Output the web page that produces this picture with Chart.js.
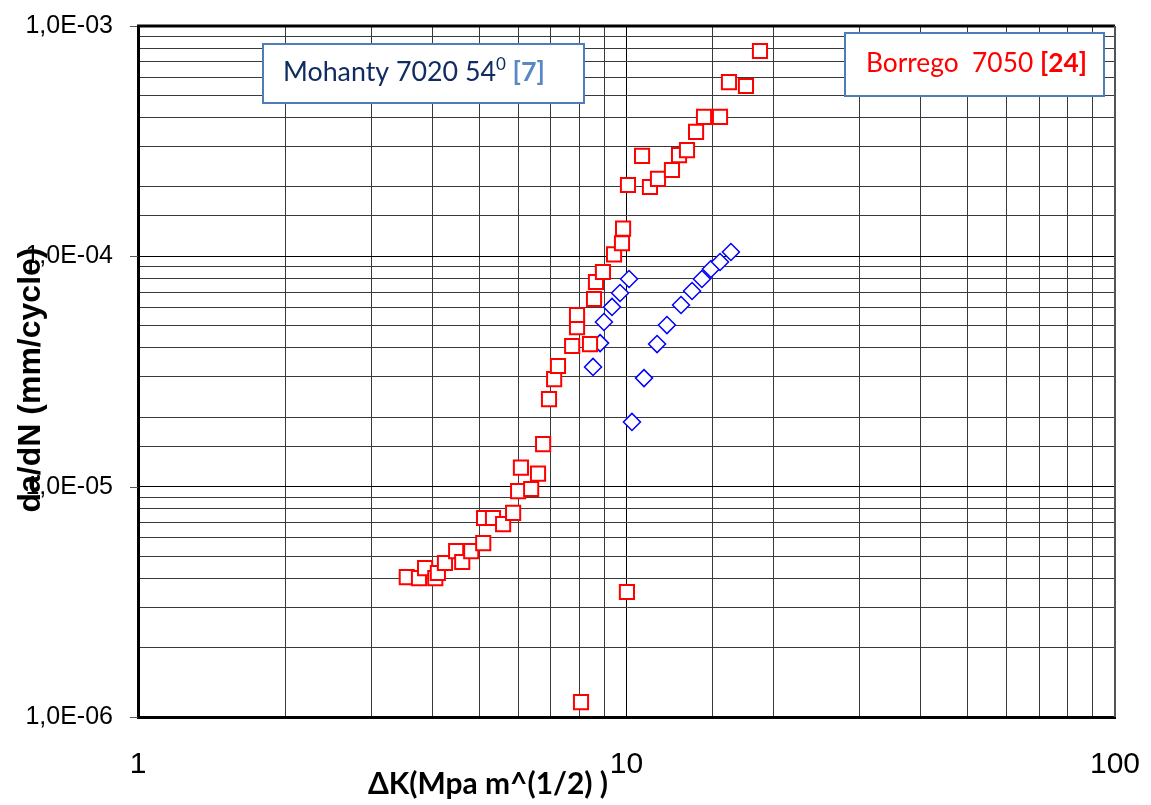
<!DOCTYPE html>
<html>
<head>
<meta charset="utf-8">
<script src="https://cdn.jsdelivr.net/npm/chart.js@4.4.1/dist/chart.umd.min.js"></script>
<style>
  html, body { margin: 0; padding: 0; background: #fff; }
</style>
</head>
<body>
<canvas id="chart" width="1151" height="805"></canvas>
<script>
// Borrego 7050 [24]
const borregoK = [3.55, 3.76, 3.87, 4.06, 4.11, 4.25, 4.48, 4.61, 4.81, 5.09, 5.11, 5.33, 5.59, 5.86,
  6.00, 6.08, 6.38, 6.59, 6.75, 6.94, 7.11, 7.24, 7.74, 7.92, 7.92, 8.42, 8.58, 8.66, 8.95, 9.43,
  9.79, 9.84, 10.02, 8.07, 10.07, 10.76, 11.17, 11.60, 12.39, 12.81, 13.30, 13.88, 14.41, 15.54,
  16.21, 17.56, 18.76];
const borregoRate = [4.05e-6, 4.01e-6, 4.43e-6, 4.01e-6, 4.22e-6, 4.66e-6, 5.25e-6, 4.71e-6, 5.25e-6,
  5.69e-6, 7.31e-6, 7.31e-6, 6.88e-6, 7.69e-6, 9.57e-6, 1.21e-5, 9.77e-6, 1.14e-5, 1.53e-5, 2.40e-5,
  2.93e-5, 3.34e-5, 4.08e-5, 4.93e-5, 5.56e-5, 4.16e-5, 6.53e-5, 7.74e-5, 8.55e-5, 1.02e-4, 1.14e-4,
  1.32e-4, 3.49e-6, 1.16e-6, 2.04e-4, 2.73e-4, 2.00e-4, 2.17e-4, 2.37e-4, 2.75e-4, 2.89e-4, 3.47e-4,
  4.03e-4, 4.03e-4, 5.71e-4, 5.49e-4, 7.79e-4];

// Mohanty 7020 54deg [7]
const mohantyK = [8.54, 8.83, 8.99, 9.34, 9.70, 10.12, 10.26, 10.86, 11.55, 12.10, 12.93, 13.62,
  14.27, 14.89, 15.54, 16.36];
const mohantyRate = [3.31e-5, 4.20e-5, 5.19e-5, 6.03e-5, 6.93e-5, 7.97e-5, 1.91e-5, 2.96e-5, 4.16e-5,
  5.03e-5, 6.15e-5, 7.07e-5, 7.97e-5, 8.81e-5, 9.45e-5, 1.044e-4];

const xTickValues = [1, 10, 100];
const xTickLabels = ['1', '10', '100'];
const yTickValues = [1e-6, 1e-5, 1e-4, 1e-3];
const yTickLabels = ['1,0E-06', '1,0E-05', '1,0E-04', '1,0E-03'];

function majorIndex(v, vals) {
  return vals.findIndex(t => Math.abs(Math.log10(t) - Math.log10(v)) < 1e-6);
}

function toPoints(xs, ys) {
  return xs.map((x, i) => ({ x: x, y: ys[i] }));
}

// draw a line of text made of several runs, scaled so it fills a given width
function drawRuns(ctx, runs, x, y, width) {
  let total = 0;
  runs.forEach(r => {
    ctx.font = (r.bold ? 'bold ' : '') + r.size + 'px ' + r.family;
    total += ctx.measureText(r.text).width;
  });
  const k = width / total;
  let cx = x;
  runs.forEach(r => {
    ctx.font = (r.bold ? 'bold ' : '') + (r.size * k) + 'px ' + r.family;
    ctx.fillStyle = r.color;
    ctx.fillText(r.text, cx, y - (r.raise || 0) * k);
    cx += ctx.measureText(r.text).width;
  });
}

const extras = {
  id: 'extras',
  afterDraw(chart) {
    const ctx = chart.ctx;
    const a = chart.chartArea;
    const yScale = chart.scales.y;
    ctx.save();

    // small tick marks at the labelled decades
    ctx.strokeStyle = '#555';
    ctx.lineWidth = 1;
    yTickValues.forEach(v => {
      const py = Math.round(yScale.getPixelForValue(v)) + 0.5;
      ctx.beginPath();
      ctx.moveTo(a.left - 8, py);
      ctx.lineTo(a.left, py);
      ctx.stroke();
    });

    // frame top and right
    ctx.strokeStyle = '#000';
    ctx.lineWidth = 3;
    ctx.beginPath();
    ctx.moveTo(a.left - 1, a.top);
    ctx.lineTo(a.right, a.top);
    ctx.stroke();
    ctx.strokeStyle = '#555';
    ctx.lineWidth = 2;
    ctx.beginPath();
    ctx.moveTo(a.right, a.top);
    ctx.lineTo(a.right, a.bottom);
    ctx.stroke();

    // text boxes
    ctx.lineWidth = 2;
    ctx.strokeStyle = '#4F7DBA';
    ctx.fillStyle = '#fff';
    ctx.fillRect(263, 44, 321, 59);
    ctx.strokeRect(263, 44, 321, 59);
    ctx.fillRect(845, 33, 259, 63);
    ctx.strokeRect(845, 33, 259, 63);

    ctx.textBaseline = 'alphabetic';
    ctx.textAlign = 'left';
    drawRuns(ctx, [
      { text: 'Mohanty 7020 54', size: 22, family: 'Lato', color: '#102C60' },
      { text: '0', size: 14, family: 'Lato', color: '#102C60', raise: 9 },
      { text: ' [7]', size: 22, family: 'Lato', color: '#5A88C4', bold: true }
    ], 283, 81, 262);
    drawRuns(ctx, [
      { text: 'Borrego  7050 ', size: 25, family: 'Lato', color: '#FF0000' },
      { text: '[24]', size: 25, family: 'Lato', color: '#FF0000', bold: true }
    ], 866, 72, 221);

    // axis titles
    drawRuns(ctx, [
      { text: 'ΔK(Mpa m^(1/2) )', size: 28, family: 'Lato', color: '#000', bold: true }
    ], 368, 794, 240);

    ctx.translate(31, 380);
    ctx.rotate(-Math.PI / 2);
    ctx.textAlign = 'center';
    ctx.textBaseline = 'middle';
    ctx.font = 'bold 32px Arial, "Liberation Sans"';
    ctx.fillStyle = '#000';
    ctx.fillText('da/dN (mm/cycle)', 0, 0);
    ctx.restore();
  }
};

new Chart(document.getElementById('chart'), {
  type: 'scatter',
  data: {
    datasets: [
      {
        label: 'Borrego 7050 [24]',
        data: toPoints(borregoK, borregoRate),
        pointStyle: 'rect',
        pointRadius: 10,
        borderWidth: 2,
        borderColor: '#FF0000',
        backgroundColor: '#FFFFFF'
      },
      {
        label: 'Mohanty 7020 54 [7]',
        data: toPoints(mohantyK, mohantyRate),
        pointStyle: 'rectRot',
        pointRadius: 8.5,
        borderWidth: 1.5,
        borderColor: '#0000FF',
        backgroundColor: '#FFFFFF'
      }
    ]
  },
  options: {
    responsive: false,
    animation: false,
    layout: { padding: { top: 26, right: 36, left: 0, bottom: 0 } },
    plugins: {
      legend: { display: false },
      tooltip: { enabled: false }
    },
    scales: {
      x: {
        type: 'logarithmic',
        min: 1,
        max: 100,
        afterFit: s => { s.height = 88; },
        ticks: {
          autoSkip: false,
          maxRotation: 0,
          padding: 0,
          color: '#000',
          font: { family: 'Arial', size: 30 },
          callback: v => {
            const i = majorIndex(v, xTickValues);
            return i < 0 ? '' : xTickLabels[i];
          }
        },
        grid: {
          drawTicks: true,
          tickLength: 30,
          tickColor: 'rgba(0,0,0,0)',
          lineWidth: 1,
          color: c => majorIndex(c.tick.value, xTickValues) < 0 ? '#3a3a3a' : '#000'
        },
        border: { color: '#000', width: 3 }
      },
      y: {
        type: 'logarithmic',
        min: 1e-6,
        max: 1e-3,
        afterFit: s => { s.width = 138; },
        ticks: {
          autoSkip: false,
          padding: 0,
          color: '#000',
          font: { family: 'Arial', size: 25 },
          callback: v => {
            const i = majorIndex(v, yTickValues);
            return i < 0 ? '' : yTickLabels[i];
          }
        },
        grid: {
          tickLength: 25,
          tickColor: 'rgba(0,0,0,0)',
          lineWidth: 1,
          color: c => majorIndex(c.tick.value, yTickValues) < 0 ? '#3a3a3a' : '#000'
        },
        border: { color: '#000', width: 3 }
      }
    }
  },
  plugins: [extras]
});
</script>
</body>
</html>
